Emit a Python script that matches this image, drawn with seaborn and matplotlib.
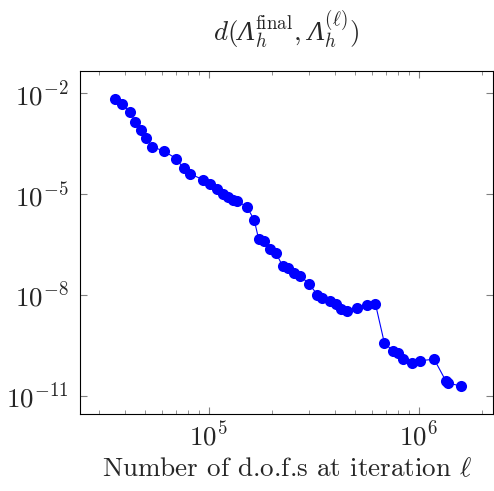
"""
Convergence of the discrete spectrum: distance to the final iterate vs d.o.f.s
"""
import numpy as np
import pandas as pd
import matplotlib
matplotlib.use('Agg')
import matplotlib.pyplot as plt
import matplotlib.ticker as mticker
import seaborn as sns

# ============================================================================
# DATA
# ============================================================================
dofs = [35900, 38700, 42300, 44700, 47800, 50200, 53600, 61400, 70000, 75900,
        81100, 93800, 101600, 109600, 117500, 124200, 130000, 136800, 152100,
        164800, 173000, 183700, 196800, 209400, 224900, 239900, 255300, 273500,
        302000, 328900, 345900, 376700, 402700, 427600, 457100, 509300, 566200,
        622300, 687100, 756800, 801700, 839500, 924700, 1016000, 1186000,
        1346000, 1387000, 1589000]
dist = [6.78e-3, 4.81e-3, 2.78e-3, 1.43e-3, 8.11e-4, 4.59e-4, 2.62e-4, 1.92e-4,
        1.15e-4, 6.01e-5, 4.12e-5, 2.74e-5, 2.01e-5, 1.42e-5, 1.01e-5, 8.26e-6,
        6.64e-6, 6.24e-6, 4.25e-6, 1.71e-6, 4.66e-7, 4.06e-7, 2.43e-7, 1.78e-7,
        7.33e-8, 6.25e-8, 4.69e-8, 3.69e-8, 2.10e-8, 1.03e-8, 8.36e-9, 6.67e-9,
        5.25e-9, 3.78e-9, 3.37e-9, 4.22e-9, 4.97e-9, 5.55e-9, 3.68e-10, 2.17e-10,
        1.90e-10, 1.26e-10, 9.55e-11, 1.12e-10, 1.23e-10, 2.82e-11, 2.38e-11,
        1.98e-11]
ytick_vals = [1e-2, 1e-5, 1e-8, 1e-11]

df = pd.DataFrame({'dofs': dofs, 'dist': dist})

# ============================================================================
# STYLE
# ============================================================================
sns.set_style('ticks')
plt.rcParams['font.family'] = ['cmr10', 'DejaVu Serif']
plt.rcParams['mathtext.fontset'] = 'cm'
plt.rcParams['axes.formatter.use_mathtext'] = True
# custom math fonts, only used for the title (italic capital Lambda)
plt.rcParams['mathtext.it'] = 'cmmi10'
plt.rcParams['mathtext.rm'] = 'Liberation Serif:italic'
plt.rcParams['mathtext.sf'] = 'cmr10'

FS = 19.5

fig = plt.figure(figsize=(4.94, 4.91), dpi=100)
ax = fig.add_axes([0.162, 0.157, 0.836, 0.698])
ax.set_xscale('log')
ax.set_yscale('log')

sns.lineplot(data=df, x='dofs', y='dist', ax=ax, color='#0000ff',
             marker='o', markersize=8, markeredgewidth=0, linewidth=0.8,
             estimator=None, sort=False)

ax.set_xlim(2.44e4, 2.26e6)
ax.set_ylim(10**-11.536, 10**-1.337)

ax.set_yticks(ytick_vals)
ax.yaxis.set_minor_locator(mticker.NullLocator())
ax.yaxis.set_major_formatter(mticker.LogFormatterSciNotation())

ax.tick_params(which='both', direction='in', top=True, right=True,
               color='#808080', labelsize=FS)
ax.tick_params(axis='y', pad=8)
ax.tick_params(axis='x', pad=5)
ax.tick_params(which='major', length=5, width=0.8)
ax.tick_params(which='minor', length=3, width=0.6)
for s in ax.spines.values():
    s.set_linewidth(0.8)
    s.set_color('black')

ax.set_xlabel(r'Number of d.o.f.s at iteration $\ell$', fontsize=FS, labelpad=5)
ax.set_ylabel('')
title = (r'$d\mathsf{(}\mathrm{\Lambda}_h^{\mathsf{final}}\mathsf{,}\;'
         r'\mathrm{\Lambda}_h^{\mathsf{(}\ell\mathsf{)}}\mathsf{)}$')
ax.set_title(title, fontsize=FS, pad=22, math_fontfamily='custom')

fig.savefig('out.png', dpi=100)
